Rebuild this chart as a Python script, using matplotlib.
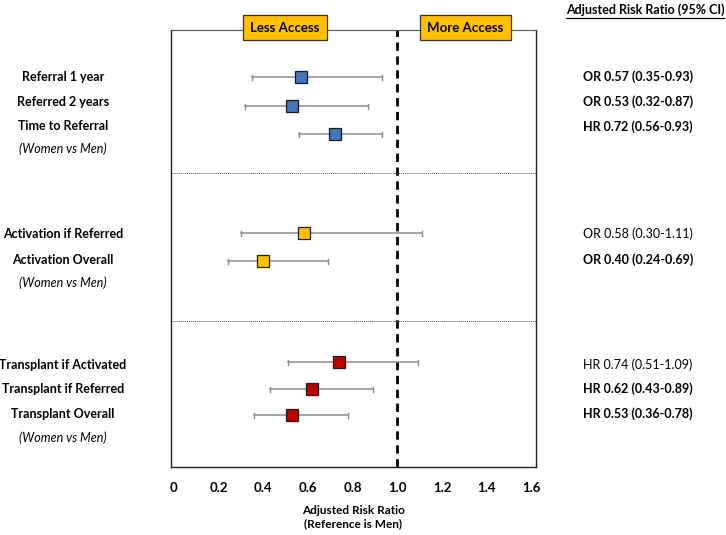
import matplotlib.pyplot as plt
from matplotlib.patches import Rectangle
from matplotlib.lines import Line2D

plt.rcParams['font.family'] = ['Lato', 'DejaVu Sans']

# data
outcomes = ['Referral 1 year', 'Referred 2 years', 'Time to Referral',
            'Activation if Referred', 'Activation Overall',
            'Transplant if Activated', 'Transplant if Referred', 'Transplant Overall']
measure = ['OR', 'OR', 'HR', 'OR', 'OR', 'HR', 'HR', 'HR']
estimate = [0.57, 0.53, 0.72, 0.58, 0.40, 0.74, 0.62, 0.53]
ci_low = [0.35, 0.32, 0.56, 0.30, 0.24, 0.51, 0.43, 0.36]
ci_high = [0.93, 0.87, 0.93, 1.11, 0.69, 1.09, 0.89, 0.78]
group = [0, 0, 0, 1, 1, 2, 2, 2]
xticks = [0, 0.2, 0.4, 0.6, 0.8, 1.0, 1.2, 1.4, 1.6]
xtick_labels = ['0', '0.2', '0.4', '0.6', '0.8', '1.0', '1.2', '1.4', '1.6']

# layout (pixel rows of the 726x535 canvas)
W, H = 726, 535
row_y = [77, 106, 134, 233, 261, 362, 389, 415]
label_y = [77, 102, 126, 234, 260, 365, 389, 414]
text_y = [77, 102, 127, 234, 260, 365, 389, 414]
note_y = [149, 283, 438]
sep_y = [173, 321]
colors = ['#4472C4', '#FFC000', '#C00000']


def fx(x):
    return x / W


def fy(y):
    return 1 - y / H


fig = plt.figure(figsize=(7.26, 5.35), dpi=100)
ax = fig.add_axes([fx(171), fy(467), fx(536) - fx(171), fy(30) - fy(467)])
ax.set_xlim(-0.013, 1.62)
ax.set_ylim(467, 30)

for i in range(len(outcomes)):
    y = row_y[i]
    ax.plot([ci_low[i], ci_high[i]], [y, y], color='#8c8c8c', lw=1.1, zorder=2)
    for c in (ci_low[i], ci_high[i]):
        ax.plot([c, c], [y - 2.5, y + 2.5], color='#8c8c8c', lw=1.0, zorder=2)
    ax.plot(estimate[i], y, marker='s', ms=8.5, color=colors[group[i]],
            mec='#1a1a1a', mew=0.9, zorder=3)

ax.axvline(1.0, color='black', lw=2, ls=(0, (3, 2)), zorder=1)
for s in sep_y:
    ax.axhline(s, color='#555555', lw=0.7, ls=(0, (1, 1)))

ax.set_yticks([])
ax.set_xticks(xticks)
ax.set_xticklabels(xtick_labels, fontweight='bold', fontsize=9.5)
ax.tick_params(axis='x', length=0, pad=11)
ax.spines['top'].set_color('#555555')
ax.spines['top'].set_linewidth(0.8)
for s in ['left', 'bottom', 'right']:
    ax.spines[s].set_color('#222222')
    ax.spines[s].set_linewidth(1.0)

ax.set_xlabel('Adjusted Risk Ratio\n(Reference is Men)', fontweight='bold',
              fontsize=8.5, labelpad=8, linespacing=1.25)

# left labels
for i, name in enumerate(outcomes):
    fig.text(fx(63), fy(label_y[i]), name, ha='center', va='center',
             fontweight='bold', fontsize=9)
for y in note_y:
    fig.text(fx(63), fy(y), '(Women vs Men)', ha='center', va='center',
             style='italic', fontsize=9)

# right column
fig.text(fx(645), fy(10), 'Adjusted Risk Ratio (95% CI)', ha='center',
         va='center', fontweight='bold', fontsize=9)
fig.add_artist(Line2D([fx(566), fx(724)], [fy(18), fy(18)], color='black', lw=0.9))
for i in range(len(outcomes)):
    sig = ci_high[i] < 1.0
    txt = '%s %.2f (%.2f-%.2f)' % (measure[i], estimate[i], ci_low[i], ci_high[i])
    fig.text(fx(638), fy(text_y[i]), txt, ha='center', va='center',
             fontweight='bold' if sig else 'normal', fontsize=9)

# header boxes
for x0, x1, lab in [(243, 327, 'Less Access'), (420, 511, 'More Access')]:
    fig.add_artist(Rectangle((fx(x0), fy(40)), fx(x1 - x0), fy(15) - fy(40),
                             facecolor='#FFC000', edgecolor='#333333', lw=0.9,
                             transform=fig.transFigure, zorder=5))
    fig.text(fx((x0 + x1) / 2), fy(28), lab, ha='center', va='center',
             fontweight='bold', fontsize=9.5, zorder=6)

fig.savefig('out.png', dpi=100)
